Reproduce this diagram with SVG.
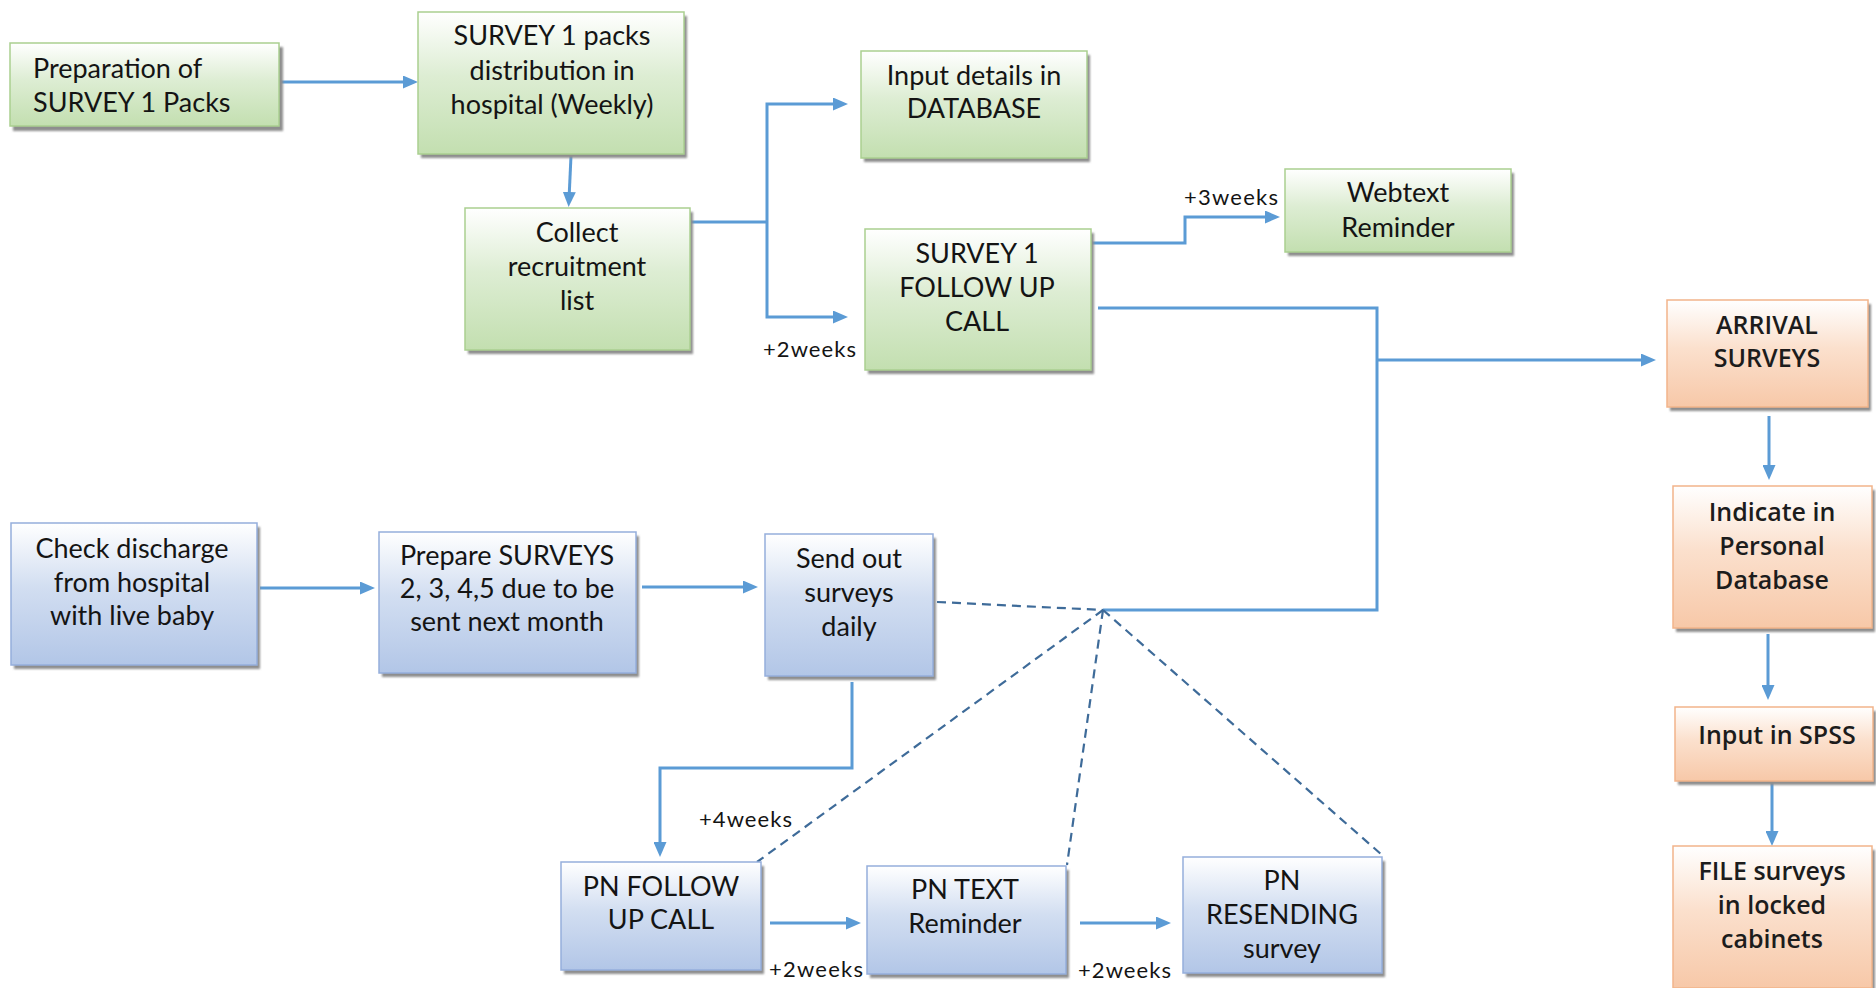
<svg xmlns="http://www.w3.org/2000/svg" width="1876" height="988" viewBox="0 0 1876 988">
  <style>
    .t { font-family: Lato, "Liberation Sans", sans-serif; font-size: 27px; fill: #141414; }
    .o { font-family: "Open Sans", "Liberation Sans", sans-serif; font-size: 25px; font-weight: 600; fill: #1c1c1c; }
    .lbl { font-family: Lato, "Liberation Sans", sans-serif; font-size: 22px; fill: #141414; }
    .sh { fill: #8e8e8e; filter: url(#soft); }
    .green { fill: url(#gradGreen); stroke: #AACF90; stroke-width: 1.5; }
    .blue { fill: url(#gradBlue); stroke: #95AEDC; stroke-width: 1.5; }
    .orange { fill: url(#gradOrange); stroke: #F2B48A; stroke-width: 1.5; }
    .ln { fill: none; stroke: #5B9BD5; stroke-width: 3; }
    .arr { marker-end: url(#arrow); }
    .dash { fill: none; stroke: #3E6B99; stroke-width: 2.2; stroke-dasharray: 9 6; }
  </style>
  <defs>
    <linearGradient id="gradGreen" x1="0" y1="0" x2="0" y2="1">
      <stop offset="0" stop-color="#FFFFFF"/>
      <stop offset="0.45" stop-color="#DDEDD3"/>
      <stop offset="1" stop-color="#C3DFB0"/>
    </linearGradient>
    <linearGradient id="gradBlue" x1="0" y1="0" x2="0" y2="1">
      <stop offset="0" stop-color="#FFFFFF"/>
      <stop offset="0.45" stop-color="#D2DEF1"/>
      <stop offset="1" stop-color="#B2C6E7"/>
    </linearGradient>
    <linearGradient id="gradOrange" x1="0" y1="0" x2="0" y2="1">
      <stop offset="0" stop-color="#FFFFFF"/>
      <stop offset="0.45" stop-color="#FBE0CD"/>
      <stop offset="1" stop-color="#F7C8A8"/>
    </linearGradient>
    <filter id="soft" x="-10%" y="-10%" width="120%" height="120%">
      <feGaussianBlur stdDeviation="1.2"/>
    </filter>
    <marker id="arrow" viewBox="0 0 15 13" markerWidth="15" markerHeight="13" refX="7" refY="6.5" orient="auto" markerUnits="userSpaceOnUse">
      <path d="M0,0 L15,6.5 L0,13 z" fill="#5B9BD5"/>
    </marker>
  </defs>

  <rect width="1876" height="988" fill="#FFFFFF"/>

  <!-- connectors -->
  <g id="connectors">
    <path class="ln arr" d="M281,82 H410"/>
    <path class="ln arr" d="M571,156 L569,199"/>
    <path class="ln" d="M686,222 H767" stroke-width="4"/>
    <path class="ln arr" d="M767,222 V104 H840"/>
    <path class="ln arr" d="M767,222 V317 H840"/>
    <path class="ln arr" d="M1092,243 H1185 V217 H1272"/>
    <path class="ln" d="M1098,308 H1377 V610 H1103"/>
    <path class="ln arr" d="M1377,360 H1648"/>
    <path class="dash" d="M937,602 L1103,610"/>
    <path class="dash" d="M1103,610 L757,862"/>
    <path class="dash" d="M1103,610 L1067,865"/>
    <path class="dash" d="M1103,610 L1382,855"/>
    <path class="ln arr" d="M260,588 H367"/>
    <path class="ln arr" d="M642,587 H750"/>
    <path class="ln arr" d="M852,682 V768 H660 V849"/>
    <path class="ln arr" d="M770,923 H853"/>
    <path class="ln arr" d="M1080,923 H1163"/>
    <path class="ln arr" d="M1769,416 V472"/>
    <path class="ln arr" d="M1768,634 V692"/>
    <path class="ln arr" d="M1772,782 V838"/>
    <text class="lbl" x="763" y="357" textLength="93" lengthAdjust="spacing">+2weeks</text>
    <text class="lbl" x="1184" y="205" textLength="94" lengthAdjust="spacing">+3weeks</text>
    <text class="lbl" x="699" y="827" textLength="93" lengthAdjust="spacing">+4weeks</text>
    <text class="lbl" x="769" y="977" textLength="94" lengthAdjust="spacing">+2weeks</text>
    <text class="lbl" x="1078" y="978" textLength="93" lengthAdjust="spacing">+2weeks</text>
  </g>

  <!-- hospital recruitment (green) -->
  <g id="prep-packs">
    <rect class="sh" x="13" y="47" width="270" height="84"/>
    <rect class="green" x="10" y="43" width="269" height="83"/>
    <text class="t"><tspan x="33" y="78">Preparation of</tspan><tspan x="33" y="112">SURVEY 1 Packs</tspan></text>
  </g>
  <g id="packs-distribution">
    <rect class="sh" x="421" y="16" width="266" height="142"/>
    <rect class="green" x="418" y="12" width="266" height="142"/>
    <text class="t" text-anchor="middle"><tspan x="552" y="45">SURVEY 1 packs</tspan><tspan x="552" y="80">distribution in</tspan><tspan x="552" y="114">hospital (Weekly)</tspan></text>
  </g>
  <g id="collect-list">
    <rect class="sh" x="468" y="212" width="225" height="142"/>
    <rect class="green" x="465" y="208" width="225" height="142"/>
    <text class="t" text-anchor="middle"><tspan x="577" y="242">Collect</tspan><tspan x="577" y="276">recruitment</tspan><tspan x="577" y="310">list</tspan></text>
  </g>
  <g id="input-database">
    <rect class="sh" x="864" y="55" width="226" height="107"/>
    <rect class="green" x="861" y="51" width="226" height="107"/>
    <text class="t" text-anchor="middle"><tspan x="974" y="85">Input details in</tspan><tspan x="974" y="118">DATABASE</tspan></text>
  </g>
  <g id="survey1-followup">
    <rect class="sh" x="868" y="233" width="226" height="141"/>
    <rect class="green" x="865" y="229" width="226" height="141"/>
    <text class="t" text-anchor="middle"><tspan x="977" y="263">SURVEY 1</tspan><tspan x="977" y="297">FOLLOW UP</tspan><tspan x="977" y="331">CALL</tspan></text>
  </g>
  <g id="webtext-reminder">
    <rect class="sh" x="1288" y="173" width="226" height="83"/>
    <rect class="green" x="1285" y="169" width="226" height="83"/>
    <text class="t" text-anchor="middle"><tspan x="1398" y="202">Webtext</tspan><tspan x="1398" y="237">Reminder</tspan></text>
  </g>

  <!-- postnatal surveys (blue) -->
  <g id="check-discharge">
    <rect class="sh" x="14" y="527" width="246" height="142"/>
    <rect class="blue" x="11" y="523" width="246" height="142"/>
    <text class="t" text-anchor="middle"><tspan x="132" y="558">Check discharge</tspan><tspan x="132" y="592">from hospital</tspan><tspan x="132" y="625">with live baby</tspan></text>
  </g>
  <g id="prepare-surveys">
    <rect class="sh" x="382" y="536" width="257" height="141"/>
    <rect class="blue" x="379" y="532" width="257" height="141"/>
    <text class="t" text-anchor="middle"><tspan x="507" y="565">Prepare SURVEYS</tspan><tspan x="507" y="598">2, 3, 4,5 due to be</tspan><tspan x="507" y="631">sent next month</tspan></text>
  </g>
  <g id="send-out">
    <rect class="sh" x="768" y="538" width="168" height="142"/>
    <rect class="blue" x="765" y="534" width="168" height="142"/>
    <text class="t" text-anchor="middle"><tspan x="849" y="568">Send out</tspan><tspan x="849" y="602">surveys</tspan><tspan x="849" y="636">daily</tspan></text>
  </g>
  <g id="pn-followup">
    <rect class="sh" x="564" y="866" width="200" height="108"/>
    <rect class="blue" x="561" y="862" width="200" height="108"/>
    <text class="t" text-anchor="middle"><tspan x="661" y="896">PN FOLLOW</tspan><tspan x="661" y="929">UP CALL</tspan></text>
  </g>
  <g id="pn-text">
    <rect class="sh" x="870" y="870" width="199" height="108"/>
    <rect class="blue" x="867" y="866" width="199" height="108"/>
    <text class="t" text-anchor="middle"><tspan x="965" y="899">PN TEXT</tspan><tspan x="965" y="933">Reminder</tspan></text>
  </g>
  <g id="pn-resending">
    <rect class="sh" x="1186" y="861" width="199" height="116"/>
    <rect class="blue" x="1183" y="857" width="199" height="116"/>
    <text class="t" text-anchor="middle"><tspan x="1282" y="890">PN</tspan><tspan x="1282" y="924">RESENDING</tspan><tspan x="1282" y="958">survey</tspan></text>
  </g>

  <!-- returns processing (orange) -->
  <g id="arrival-surveys">
    <rect class="sh" x="1670" y="304" width="201" height="107"/>
    <rect class="orange" x="1667" y="300" width="201" height="107"/>
    <text class="o" text-anchor="middle"><tspan x="1767" y="334">ARRIVAL</tspan><tspan x="1767" y="367">SURVEYS</tspan></text>
  </g>
  <g id="personal-database">
    <rect class="sh" x="1676" y="490" width="199" height="142"/>
    <rect class="orange" x="1673" y="486" width="199" height="142"/>
    <text class="o" text-anchor="middle"><tspan x="1772" y="521">Indicate in</tspan><tspan x="1772" y="555">Personal</tspan><tspan x="1772" y="589">Database</tspan></text>
  </g>
  <g id="input-spss">
    <rect class="sh" x="1678" y="711" width="198" height="74"/>
    <rect class="orange" x="1675" y="707" width="198" height="74"/>
    <text class="o" text-anchor="middle"><tspan x="1777" y="744">Input in SPSS</tspan></text>
  </g>
  <g id="file-surveys">
    <rect class="sh" x="1676" y="850" width="199" height="142"/>
    <rect class="orange" x="1673" y="846" width="199" height="142"/>
    <text class="o" text-anchor="middle"><tspan x="1772" y="880">FILE surveys</tspan><tspan x="1772" y="914">in locked</tspan><tspan x="1772" y="948">cabinets</tspan></text>
  </g>
</svg>
